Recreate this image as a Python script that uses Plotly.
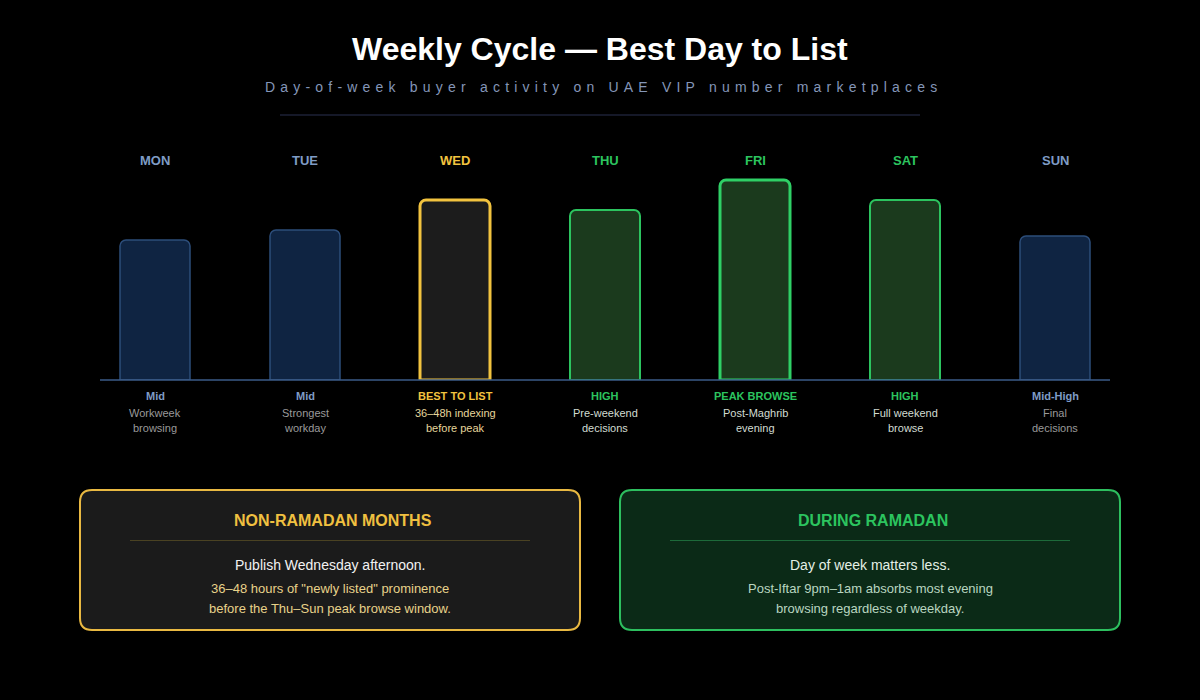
import plotly.graph_objects as go

# ---------------- data ----------------
days = ["MON", "TUE", "WED", "THU", "FRI", "SAT", "SUN"]
activity = [70, 75, 90, 85, 100, 90, 72]
levels = ["Mid", "Mid", "BEST TO LIST", "HIGH", "PEAK BROWSE", "HIGH", "Mid-High"]
desc_line1 = ["Workweek", "Strongest", "36–48h indexing", "Pre-weekend", "Post-Maghrib", "Full weekend", "Final"]
desc_line2 = ["browsing", "workday", "before peak", "decisions", "evening", "browse", "decisions"]
kinds = ["mid", "mid", "best", "high", "peak", "high", "mid"]

title = "Weekly Cycle — Best Day to List"
subtitle = "Day-of-week buyer activity on UAE VIP number marketplaces"

box_titles = ["NON-RAMADAN MONTHS", "DURING RAMADAN"]
box_main = ["Publish Wednesday afternoon.", "Day of week matters less."]
box_sub1 = ['36–48 hours of "newly listed" prominence', "Post-Iftar 9pm–1am absorbs most evening"]
box_sub2 = ["before the Thu–Sun peak browse window.", "browsing regardless of weekday."]

# ---------------- styles ----------------
FONT = "Liberation Sans, Arial, Helvetica, sans-serif"
style = {
    "mid":  dict(fill="#0f2442", line="#2c4d7a", lw=1.5, label="#7f9cc6", desc="#9a9a9a"),
    "best": dict(fill="#1c1c1c", line="#f2c33f", lw=3.0, label="#f2c33f", desc="#e6d69c"),
    "high": dict(fill="#1b3a1d", line="#2cc45f", lw=2.0, label="#2cc45f", desc="#d2dcd2"),
    "peak": dict(fill="#1b3a1d", line="#2fd066", lw=3.0, label="#2cc45f", desc="#d2dcd2"),
}

W, H = 1200, 700
L, R, T, B = 100, 90, 160, 320   # plot area: x 100..1110, y 160..380


def px(x):
    return (x - L) / (W - L - R)


def py(y):
    return (H - B - y) / (H - T - B)


fig = go.Figure()
fig.add_trace(go.Bar(
    x=days, y=activity, width=70 / 150,
    marker=dict(
        color=[style[k]["fill"] for k in kinds],
        line=dict(color=[style[k]["line"] for k in kinds],
                  width=[style[k]["lw"] for k in kinds]),
        cornerradius=6,
    ),
    hoverinfo="skip",
))

ann = []
# title & subtitle
ann.append(dict(text=f"<b>{title}</b>", x=px(600), y=py(49), xref="paper", yref="paper",
                showarrow=False, xanchor="center", yanchor="middle",
                font=dict(family=FONT, size=32, color="#ffffff")))
ann.append(dict(text=f'<span style="letter-spacing:5.2px">{subtitle}</span>', x=px(603), y=py(87),
                xref="paper", yref="paper", showarrow=False, xanchor="center", yanchor="middle",
                font=dict(family=FONT, size=14, color="#8496b8")))

for i, d in enumerate(days):
    s = style[kinds[i]]
    ann.append(dict(text=f"<b>{d}</b>", x=d, y=py(160), xref="x", yref="paper", showarrow=False,
                    xanchor="center", yanchor="middle", font=dict(family=FONT, size=13, color=s["label"])))
    ann.append(dict(text=f"<b>{levels[i]}</b>", x=d, y=py(396), xref="x", yref="paper", showarrow=False,
                    xanchor="center", yanchor="middle", font=dict(family=FONT, size=11, color=s["label"])))
    ann.append(dict(text=desc_line1[i], x=d, y=py(413), xref="x", yref="paper", showarrow=False,
                    xanchor="center", yanchor="middle", font=dict(family=FONT, size=11, color=s["desc"])))
    ann.append(dict(text=desc_line2[i], x=d, y=py(428), xref="x", yref="paper", showarrow=False,
                    xanchor="center", yanchor="middle", font=dict(family=FONT, size=11, color=s["desc"])))

shapes = []
# separator under subtitle
shapes.append(dict(type="line", xref="paper", yref="paper", x0=px(280), x1=px(920), y0=py(115), y1=py(115),
                   line=dict(color="#2b3150", width=1)))
# baseline
shapes.append(dict(type="line", xref="paper", yref="paper", x0=px(100), x1=px(1110), y0=py(380), y1=py(380),
                   line=dict(color="#3b5b88", width=1.5), layer="above"))


def rounded_rect(x0, y0, x1, y1, r):
    pts = [
        f"M {px(x0 + r)},{py(y0)}",
        f"L {px(x1 - r)},{py(y0)}",
        f"Q {px(x1)},{py(y0)} {px(x1)},{py(y0 + r)}",
        f"L {px(x1)},{py(y1 - r)}",
        f"Q {px(x1)},{py(y1)} {px(x1 - r)},{py(y1)}",
        f"L {px(x0 + r)},{py(y1)}",
        f"Q {px(x0)},{py(y1)} {px(x0)},{py(y1 - r)}",
        f"L {px(x0)},{py(y0 + r)}",
        f"Q {px(x0)},{py(y0)} {px(x0 + r)},{py(y0)}",
        "Z",
    ]
    return " ".join(pts)


boxes = [
    dict(x0=80, x1=580, fill="#1b1b1b", border="#e9b942", title="#f0c040", sep="#4a4222",
         main="#f2f2f2", sub="#e8d28a"),
    dict(x0=620, x1=1120, fill="#0b2a17", border="#2dbf5f", title="#2cc45f", sep="#1d6a3a",
         main="#e4f0e6", sub="#b9d6c0"),
]
for j, b in enumerate(boxes):
    shapes.append(dict(type="path", xref="paper", yref="paper", path=rounded_rect(b["x0"], 490, b["x1"], 630, 12),
                       fillcolor=b["fill"], line=dict(color=b["border"], width=2), layer="below"))
    cx = (b["x0"] + b["x1"]) / 2
    shapes.append(dict(type="line", xref="paper", yref="paper", x0=px(cx - 200), x1=px(cx + 200),
                       y0=py(540.5), y1=py(540.5), line=dict(color=b["sep"], width=1)))
    ann.append(dict(text=f"<b>{box_titles[j]}</b>", x=px(cx + 3), y=py(520), xref="paper", yref="paper",
                    showarrow=False, xanchor="center", yanchor="middle",
                    font=dict(family=FONT, size=16, color=b["title"])))
    ann.append(dict(text=box_main[j], x=px(cx), y=py(565), xref="paper", yref="paper",
                    showarrow=False, xanchor="center", yanchor="middle",
                    font=dict(family=FONT, size=14, color=b["main"])))
    ann.append(dict(text=box_sub1[j], x=px(cx), y=py(588), xref="paper", yref="paper",
                    showarrow=False, xanchor="center", yanchor="middle",
                    font=dict(family=FONT, size=13, color=b["sub"])))
    ann.append(dict(text=box_sub2[j], x=px(cx), y=py(608), xref="paper", yref="paper",
                    showarrow=False, xanchor="center", yanchor="middle",
                    font=dict(family=FONT, size=13, color=b["sub"])))

fig.update_layout(
    width=W, height=H,
    margin=dict(l=L, r=R, t=T, b=B),
    paper_bgcolor="#000000", plot_bgcolor="rgba(0,0,0,0)",
    showlegend=False,
    xaxis=dict(visible=False, range=[-55 / 150, 6 + 55 / 150], fixedrange=True),
    yaxis=dict(visible=False, range=[0, 110], fixedrange=True),
    annotations=ann, shapes=shapes,
    font=dict(family=FONT),
)

fig.write_html("out.html", config={"displayModeBar": False})
